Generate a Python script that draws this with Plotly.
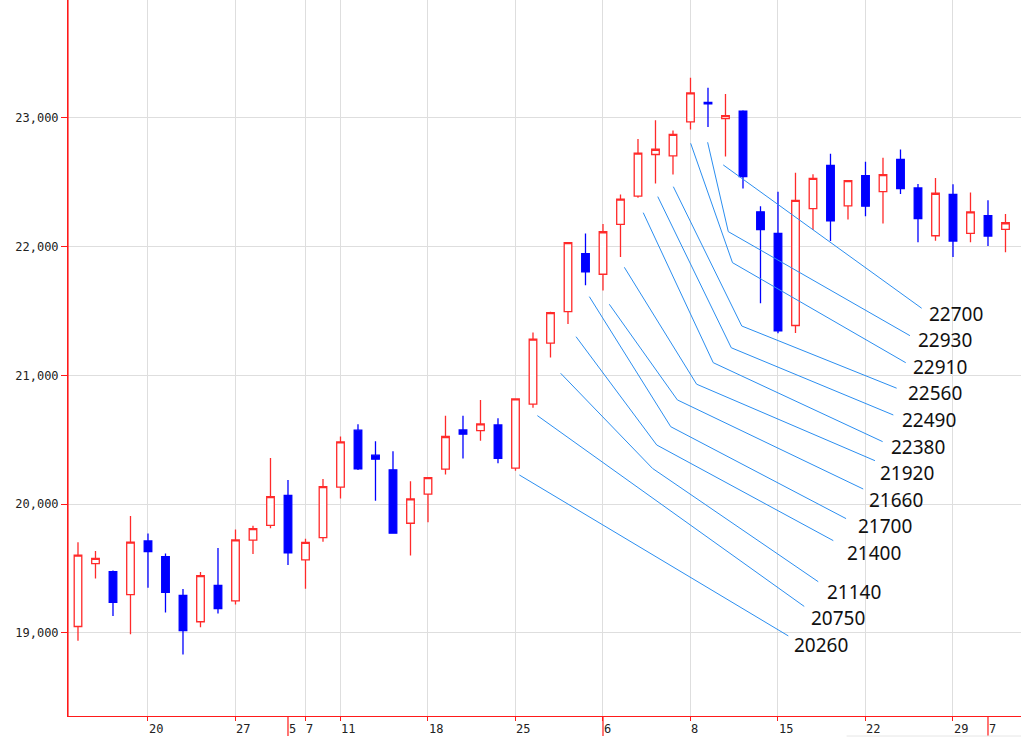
import pandas as pd
import plotly.graph_objects as go

# ---------------- data ----------------
DATES = [
    "2020-04-14", "2020-04-15", "2020-04-16", "2020-04-17", "2020-04-20", "2020-04-21",
    "2020-04-22", "2020-04-23", "2020-04-24", "2020-04-27", "2020-04-28", "2020-04-30",
    "2020-05-01", "2020-05-07", "2020-05-08", "2020-05-11", "2020-05-12", "2020-05-13",
    "2020-05-14", "2020-05-15", "2020-05-18", "2020-05-19", "2020-05-20", "2020-05-21",
    "2020-05-22", "2020-05-25", "2020-05-26", "2020-05-27", "2020-05-28", "2020-05-29",
    "2020-06-01", "2020-06-02", "2020-06-03", "2020-06-04", "2020-06-05", "2020-06-08",
    "2020-06-09", "2020-06-10", "2020-06-11", "2020-06-12", "2020-06-15", "2020-06-16",
    "2020-06-17", "2020-06-18", "2020-06-19", "2020-06-22", "2020-06-23", "2020-06-24",
    "2020-06-25", "2020-06-26", "2020-06-29", "2020-06-30", "2020-07-01", "2020-07-02",
]
OPEN = [19050, 19538, 19477, 19297, 19715, 19592, 19292, 19087, 19369, 19249, 19721, 19836,
        20069, 19567, 19741, 20133, 20575, 20381, 20267, 19852, 20078, 20272, 20577, 20572,
        20616, 20280, 20777, 21251, 21496, 21946, 21786, 22173, 22393, 22716, 22705, 22969,
        23120, 22995, 23052, 22271, 22103, 21388, 22296, 22631, 22317, 22552, 22428, 22678,
        22456, 22085, 22407, 22103, 22242, 22134]
HIGH = [19705, 19636, 19485, 19908, 19772, 19618, 19341, 19474, 19659, 19803, 19833, 20359,
        20187, 19731, 20195, 20526, 20620, 20489, 20412, 20179, 20210, 20686, 20686, 20810,
        20668, 20820, 21333, 21495, 22035, 22103, 22176, 22406, 22837, 22982, 22902, 23313,
        23235, 23186, 23060, 22315, 22426, 22574, 22562, 22722, 22518, 22660, 22691, 22755,
        22487, 22534, 22485, 22420, 22361, 22253]
LOW = [18940, 19423, 19131, 18990, 19351, 19159, 18833, 19044, 19151, 19221, 19613, 19813,
       19528, 19344, 19708, 20044, 20266, 20026, 19770, 19601, 19860, 20230, 20355, 20492,
       20318, 20260, 20750, 21140, 21400, 21700, 21660, 21920, 22380, 22490, 22560, 22910,
       22930, 22700, 22452, 21561, 21328, 21330, 22129, 22044, 22211, 22237, 22181, 22410,
       22034, 22046, 21920, 22034, 22005, 21956]
CLOSE = [19605, 19580, 19238, 19705, 19631, 19315, 19018, 19446, 19190, 19723, 19810, 20059,
         19623, 19703, 20136, 20484, 20275, 20350, 19775, 20041, 20207, 20526, 20544, 20624,
         20357, 20818, 21282, 21488, 22031, 21804, 22116, 22369, 22726, 22757, 22873, 23194,
         23110, 23018, 22545, 22132, 21346, 22359, 22531, 22201, 22513, 22315, 22559, 22451,
         22219, 22415, 22044, 22271, 22083, 22186]

Y_TICKS = [19000, 20000, 21000, 22000, 23000]
Y_TICK_TEXT = ["19,000", "20,000", "21,000", "22,000", "23,000"]

# callout labels (candle index -> label text)
CALLOUT_IDX = [25, 26, 27, 28, 29, 30, 31, 32, 33, 34, 35, 36, 37]
CALLOUT_TEXT = ["20260", "20750", "21140", "21400", "21700", "21660", "21920",
                "22380", "22490", "22560", "22910", "22930", "22700"]

# ---------------- callout geometry (annotation layout, in axis units) ----------------
CALLOUT_PATHS = [
    [(25.22, 20227), (40.59, 18977)],
    [(26.25, 20688), (41.50, 19206)],
    [(27.58, 21017), (32.83, 20278), (42.30, 19398)],
    [(28.46, 21301), (33.07, 20460), (43.16, 19717)],
    [(29.22, 21612), (33.87, 20602), (43.89, 19888)],
    [(30.36, 21553), (34.25, 20810), (44.87, 20118)],
    [(31.22, 21840), (35.35, 20932), (45.54, 20338)],
    [(32.30, 22264), (36.30, 21099), (45.98, 20486)],
    [(33.13, 22389), (37.33, 21215), (46.59, 20693)],
    [(34.02, 22466), (37.93, 21384), (46.78, 20901)],
    [(35.01, 22803), (37.40, 21876), (47.30, 21099)],
    [(35.98, 22811), (37.16, 22117), (47.54, 21309)],
    [(36.87, 22635), (48.21, 21522)],
]
CALLOUT_LABEL_POS = [
    (40.86, 18907), (41.83, 19114), (42.74, 19316), (43.89, 19619), (44.53, 19831),
    (45.16, 20033), (45.77, 20245), (46.40, 20447), (47.03, 20654), (47.35, 20862),
    (47.64, 21064), (47.96, 21276), (48.59, 21475),
]

RED = "#ff1a1a"
CANDLE_RED = "#ff2a2a"
BLUE = "#0000ff"
GRID = "#dedede"
LEADER = "#2b8ef0"
AXIS_FONT = dict(family="DejaVu Sans Mono", size=12, color="#222222")

X = list(range(len(DATES)))
d = pd.to_datetime(DATES)
week_starts = [i for i in range(1, len(d)) if d[i].isocalendar()[1] != d[i - 1].isocalendar()[1]]
month_starts = [i for i in range(1, len(d)) if d[i].month != d[i - 1].month]

fig = go.Figure()
fig.add_trace(go.Candlestick(
    x=X, open=OPEN, high=HIGH, low=LOW, close=CLOSE,
    increasing=dict(line=dict(color=CANDLE_RED, width=1.3), fillcolor="white"),
    decreasing=dict(line=dict(color=BLUE, width=1.3), fillcolor=BLUE),
    whiskerwidth=0, showlegend=False, hoverinfo="skip",
))

for path in CALLOUT_PATHS:
    fig.add_trace(go.Scatter(
        x=[p[0] for p in path], y=[p[1] for p in path], mode="lines",
        line=dict(color=LEADER, width=1), showlegend=False, hoverinfo="skip",
    ))

annotations = []
for (lx, ly), txt in zip(CALLOUT_LABEL_POS, CALLOUT_TEXT):
    annotations.append(dict(
        x=lx, y=ly, xref="x", yref="y", text=txt, showarrow=False,
        xanchor="left", yanchor="middle", borderpad=0,
        font=dict(family="Noto Sans", size=19, color="#111111"),
    ))

# x labels: day at week starts, month number at month starts
for i in sorted(set(week_starts) | set(month_starts)):
    label = str(d[i].month) if i in month_starts else str(d[i].day)
    annotations.append(dict(
        x=i, y=0, xref="x", yref="paper", text=label, showarrow=False,
        xanchor="left", yanchor="middle", xshift=0, yshift=-13, borderpad=0,
        font=AXIS_FONT,
    ))

shapes = []
for i in month_starts:
    shapes.append(dict(type="line", xref="x", yref="paper", x0=i, x1=i,
                       y0=0, y1=-20 / 716, line=dict(color=RED, width=1.2)))
# explicit red left axis line
shapes.append(dict(type="line", xref="paper", yref="paper", x0=0, x1=0,
                   y0=0, y1=1, line=dict(color=RED, width=1.2)))
shapes.append(dict(type="line", xref="paper", yref="paper", x0=0.817, x1=1,
                   y0=-20 / 716, y1=-20 / 716, line=dict(color="#e6e6e6", width=1)))

fig.update_layout(
    width=1021, height=742,
    margin=dict(l=68, r=0, t=0, b=26),
    paper_bgcolor="white", plot_bgcolor="white",
    boxgap=0.38,
    annotations=annotations, shapes=shapes,
    xaxis=dict(
        range=[-0.571, 53.886], rangeslider=dict(visible=False),
        tickmode="array", tickvals=week_starts, showticklabels=False,
        ticks="outside", ticklen=4, tickcolor=RED, tickwidth=1,
        showgrid=True, gridcolor=GRID, gridwidth=1,
        showline=True, linecolor=RED, linewidth=1, zeroline=False,
    ),
    yaxis=dict(
        range=[18355, 23916], tickmode="array", tickvals=Y_TICKS, ticktext=Y_TICK_TEXT,
        ticks="outside", ticklen=6, tickcolor=RED, tickwidth=1, tickfont=AXIS_FONT,
        showgrid=True, gridcolor=GRID, gridwidth=1,
        showline=True, linecolor=RED, linewidth=1, zeroline=False,
    ),
)

fig.write_html(
    "out.html",
    config={"displayModeBar": False},
    post_script="document.body.style.margin='0';document.body.style.overflow='hidden';",
)
